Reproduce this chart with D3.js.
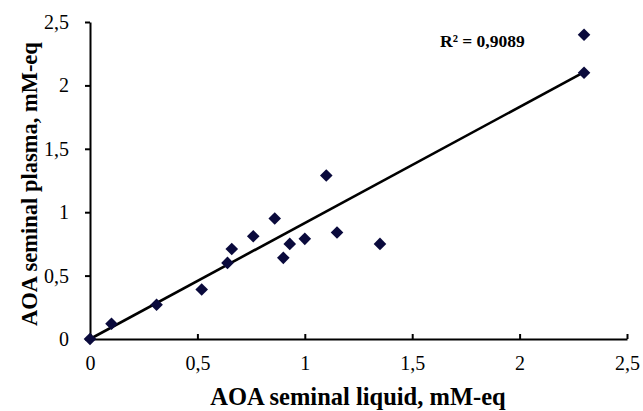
<!DOCTYPE html>
<html>
<head>
<meta charset="utf-8">
<script src="https://cdn.jsdelivr.net/npm/d3@7/dist/d3.min.js"></script>
<style>
  html, body { margin: 0; padding: 0; background: #fff; }
  svg { display: block; }
  text { font-family: "Liberation Serif", "Times New Roman", serif; fill: #000; }
</style>
</head>
<body>
<svg id="chart" width="643" height="411"></svg>
<script>
// AOA in seminal liquid (x) vs seminal plasma (y), mM-eq
const liquid = [0, 0.10, 0.31, 0.52, 0.64, 0.66, 0.76, 0.86, 0.90, 0.93, 1.00, 1.10, 1.15, 1.35, 2.30, 2.30];
const plasma = [0, 0.12, 0.27, 0.39, 0.60, 0.71, 0.81, 0.95, 0.64, 0.75, 0.79, 1.29, 0.84, 0.75, 2.40, 2.10];

// Linear trend line
const trendX = [0, 2.30];
const trendSlope = 0.915;
const trendIntercept = 0;
const rSquaredLabel = "R² = 0,9089";

const xTicks = [0, 0.5, 1, 1.5, 2, 2.5];
const yTicks = [0, 0.5, 1, 1.5, 2, 2.5];
const fmt = d => String(d).replace(".", ",");

const xTitle = "AOA seminal liquid, mM-eq";
const yTitle = "AOA seminal plasma, mM-eq";

const svg = d3.select("#chart");
const plot = { left: 90, right: 627, top: 22, bottom: 339 };

const x = d3.scaleLinear().domain([0, 2.5]).range([plot.left, plot.right]);
const y = d3.scaleLinear().domain([0, 2.5]).range([plot.bottom, plot.top]);

// Y axis: ticks outside
const yAxis = svg.append("g")
  .attr("transform", `translate(${plot.left},0)`)
  .call(d3.axisLeft(y).tickValues(yTicks).tickFormat(fmt).tickSize(5).tickPadding(16).tickSizeOuter(0));

// X axis: ticks point into the plot
const xAxis = svg.append("g")
  .attr("transform", `translate(0,${plot.bottom})`)
  .call(d3.axisBottom(x).tickValues(xTicks).tickFormat(fmt).tickSize(-5).tickPadding(14).tickSizeOuter(0));

[xAxis, yAxis].forEach(g => {
  g.select(".domain").attr("stroke", "#000").attr("stroke-width", 2);
  g.selectAll(".tick line").attr("stroke", "#000").attr("stroke-width", 2);
  g.selectAll(".tick text").attr("font-size", 20).attr("font-family", "Liberation Serif");
});
xAxis.selectAll(".tick text").attr("y", 17);

// Trend line
svg.append("line")
  .attr("x1", x(trendX[0])).attr("y1", y(trendIntercept + trendSlope * trendX[0]))
  .attr("x2", x(trendX[1])).attr("y2", y(trendIntercept + trendSlope * trendX[1]))
  .attr("stroke", "#000").attr("stroke-width", 2.6);

// Diamond markers
const pts = liquid.map((v, i) => [v, plasma[i]]);
const r = 6.3;
svg.append("g").selectAll("path").data(pts).enter().append("path")
  .attr("d", d => {
    const cx = x(d[0]), cy = y(d[1]);
    return `M${cx},${cy - r}L${cx + r},${cy}L${cx},${cy + r}L${cx - r},${cy}Z`;
  })
  .attr("fill", "#0a0a3c");

// R² annotation
svg.append("text")
  .attr("x", 440).attr("y", 47)
  .attr("font-size", 17.5).attr("font-weight", "bold")
  .text(rSquaredLabel);

// Axis titles
svg.append("text")
  .attr("x", 358).attr("y", 405)
  .attr("text-anchor", "middle")
  .attr("font-size", 24.5).attr("font-weight", "bold")
  .text(xTitle);

svg.append("text")
  .attr("transform", `translate(37,184) rotate(-90)`)
  .attr("text-anchor", "middle")
  .attr("font-size", 22.5).attr("font-weight", "bold")
  .text(yTitle);
</script>
</body>
</html>
